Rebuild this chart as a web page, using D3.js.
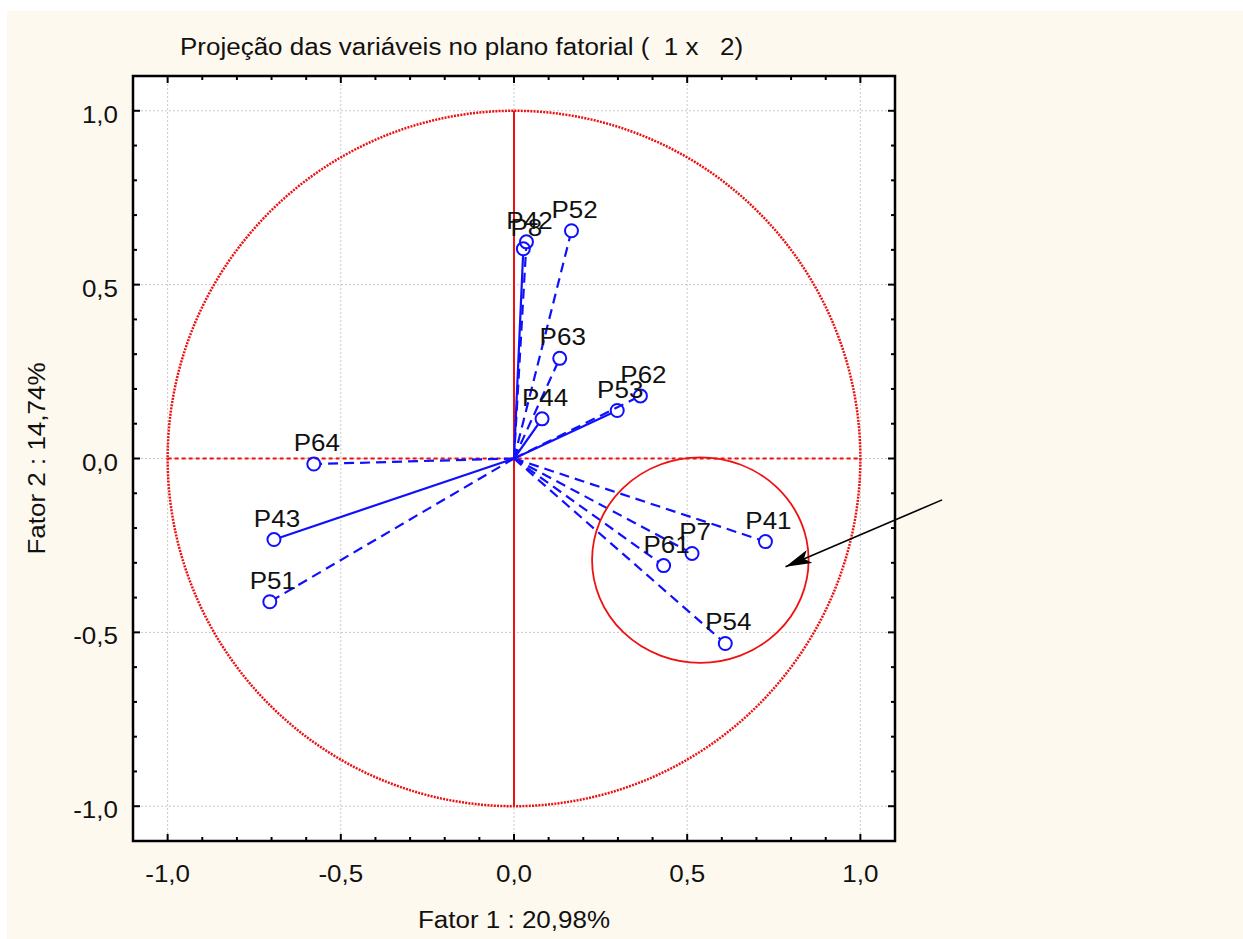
<!DOCTYPE html>
<html>
<head>
<meta charset="utf-8">
<script src="https://cdn.jsdelivr.net/npm/d3@7/dist/d3.min.js"></script>
<style>
  html, body { margin: 0; padding: 0; background: #ffffff; }
  svg { display: block; }
  text { font-family: "Liberation Sans", Arial, Helvetica, sans-serif; fill: #111; white-space: pre; }
</style>
</head>
<body>
<svg id="chart" width="1243" height="939"></svg>
<script>
// ---------- data ----------
const chartTitle = "Projeção das variáveis no plano fatorial (  1 x   2)";
const xAxisTitle = "Fator 1 : 20,98%";
const yAxisTitle = "Fator 2 : 14,74%";
const variables = ["P42", "P8", "P52", "P63", "P62", "P53", "P44", "P64", "P43", "P51", "P41", "P7", "P61", "P54"];
const factor1   = [0.036, 0.027, 0.166, 0.132, 0.365, 0.298, 0.081, -0.578, -0.693, -0.705, 0.726, 0.514, 0.432, 0.610];
const factor2   = [0.623, 0.603, 0.655, 0.288, 0.180, 0.138, 0.114, -0.016, -0.233, -0.412, -0.239, -0.273, -0.308, -0.532];
const majorTicks = [-1.0, -0.5, 0.0, 0.5, 1.0];
const majorTickLabels = ["-1,0", "-0,5", "0,0", "0,5", "1,0"];
const highlightCenter = [0.538, -0.292];
const highlightRadius = [0.3126, 0.2955];
const arrowFrom = [1.236, -0.119];
const arrowTo = [0.784, -0.311];

// ---------- layout ----------
const svg = d3.select("#chart");
const W = 1243, H = 939;
const frame = { left: 133, right: 895, top: 76, bottom: 841 };
const x = d3.scaleLinear().domain([-1.1, 1.1]).range([frame.left, frame.right]);
const y = d3.scaleLinear().domain([-1.1, 1.1]).range([frame.bottom, frame.top]);
const solidLineVars = new Set(["P8", "P44", "P53", "P43"]);
const blue = "#1010ff";
const red = "#ee1111";
const FS = 23, SX = 1.13;

function addText(g, px, py, str, anchor, rot) {
  return g.append("text")
    .attr("transform", `translate(${px},${py})${rot ? ` rotate(${rot})` : ""} scale(${SX},1)`)
    .attr("text-anchor", anchor || "start").attr("font-size", FS).text(str);
}

svg.append("rect").attr("x", 7).attr("y", 11).attr("width", W - 7).attr("height", H - 11).attr("fill", "#fef9ef");
svg.append("rect").attr("x", frame.left).attr("y", frame.top)
  .attr("width", frame.right - frame.left).attr("height", frame.bottom - frame.top).attr("fill", "#ffffff");

// grid
const grid = svg.append("g");
majorTicks.forEach(v => {
  grid.append("line").attr("x1", x(v)).attr("x2", x(v)).attr("y1", frame.top).attr("y2", frame.bottom)
    .attr("stroke", "#c8c8c8").attr("stroke-width", 1).attr("stroke-dasharray", "2,2");
  grid.append("line").attr("y1", y(v)).attr("y2", y(v)).attr("x1", frame.left).attr("x2", frame.right)
    .attr("stroke", "#c8c8c8").attr("stroke-width", 1).attr("stroke-dasharray", "2,2");
});

// unit circle
svg.append("ellipse").attr("cx", x(0)).attr("cy", y(0))
  .attr("rx", x(1) - x(0)).attr("ry", y(0) - y(1))
  .attr("fill", "none").attr("stroke", red).attr("stroke-width", 2.5).attr("stroke-dasharray", "2,1.2");
// axes through origin
svg.append("line").attr("x1", x(-1)).attr("x2", x(1)).attr("y1", y(0)).attr("y2", y(0))
  .attr("stroke", red).attr("stroke-width", 2).attr("stroke-dasharray", "4,3");
svg.append("line").attr("x1", x(0)).attr("x2", x(0)).attr("y1", y(-1)).attr("y2", y(1))
  .attr("stroke", red).attr("stroke-width", 2);

// variable vectors
const pts = variables.map((name, i) => ({ name, v1: factor1[i], v2: factor2[i] }));
const r = 6.5;
const vec = svg.append("g");
pts.forEach(p => {
  const px = x(p.v1), py = y(p.v2), ox = x(0), oy = y(0);
  const len = Math.hypot(px - ox, py - oy);
  const ex = px - (px - ox) / len * r, ey = py - (py - oy) / len * r;
  vec.append("line").attr("x1", ox).attr("y1", oy).attr("x2", ex).attr("y2", ey)
    .attr("stroke", blue).attr("stroke-width", 2.2)
    .attr("stroke-dasharray", solidLineVars.has(p.name) ? null : "10,6");
});
vec.selectAll("circle.pt").data(pts).enter().append("circle").attr("class", "pt")
  .attr("cx", d => x(d.v1)).attr("cy", d => y(d.v2)).attr("r", r)
  .attr("fill", "none").attr("stroke", blue).attr("stroke-width", 2);
pts.forEach(p => addText(vec, x(p.v1) + 3, y(p.v2) - 13, p.name, "middle"));

// highlight ellipse
svg.append("ellipse").attr("cx", x(highlightCenter[0])).attr("cy", y(highlightCenter[1]))
  .attr("rx", x(highlightRadius[0]) - x(0)).attr("ry", y(0) - y(highlightRadius[1]))
  .attr("fill", "none").attr("stroke", red).attr("stroke-width", 1.8);

// frame & ticks
svg.append("rect").attr("x", frame.left).attr("y", frame.top)
  .attr("width", frame.right - frame.left).attr("height", frame.bottom - frame.top)
  .attr("fill", "none").attr("stroke", "#000").attr("stroke-width", 2.5);
const minorTicks = d3.range(-10, 11).map(k => k / 10);
const ticks = svg.append("g").attr("stroke", "#000").attr("stroke-width", 2);
minorTicks.forEach(v => {
  const major = Math.abs(v * 2 - Math.round(v * 2)) < 1e-9;
  const L = major ? 7 : 4;
  ticks.append("line").attr("x1", x(v)).attr("x2", x(v)).attr("y1", frame.bottom).attr("y2", frame.bottom - L);
  ticks.append("line").attr("x1", x(v)).attr("x2", x(v)).attr("y1", frame.top).attr("y2", frame.top + L);
  ticks.append("line").attr("y1", y(v)).attr("y2", y(v)).attr("x1", frame.left).attr("x2", frame.left + L);
  ticks.append("line").attr("y1", y(v)).attr("y2", y(v)).attr("x1", frame.right).attr("x2", frame.right - L);
});
const tickG = svg.append("g");
majorTicks.forEach((v, i) => {
  addText(tickG, x(v), frame.bottom + 41, majorTickLabels[i], "middle");
  addText(tickG, frame.left - 15, y(v) + 12, majorTickLabels[i], "end");
});

// arrow
const defs = svg.append("defs");
defs.append("marker").attr("id", "arr").attr("viewBox", "0 0 26 14").attr("refX", 26).attr("refY", 7)
  .attr("markerWidth", 26).attr("markerHeight", 14).attr("markerUnits", "userSpaceOnUse").attr("orient", "auto")
  .append("path").attr("d", "M0,0 L26,7 L0,14 L6,7 Z").attr("fill", "#000");
svg.append("line").attr("x1", x(arrowFrom[0])).attr("y1", y(arrowFrom[1]))
  .attr("x2", x(arrowTo[0])).attr("y2", y(arrowTo[1]))
  .attr("stroke", "#000").attr("stroke-width", 1.6).attr("marker-end", "url(#arr)");

// titles
const titles = svg.append("g");
addText(titles, 180, 55, chartTitle, "start");
addText(titles, x(0), 928, xAxisTitle, "middle");
addText(titles, 45, y(0), yAxisTitle, "middle", -90);
</script>
</body>
</html>
